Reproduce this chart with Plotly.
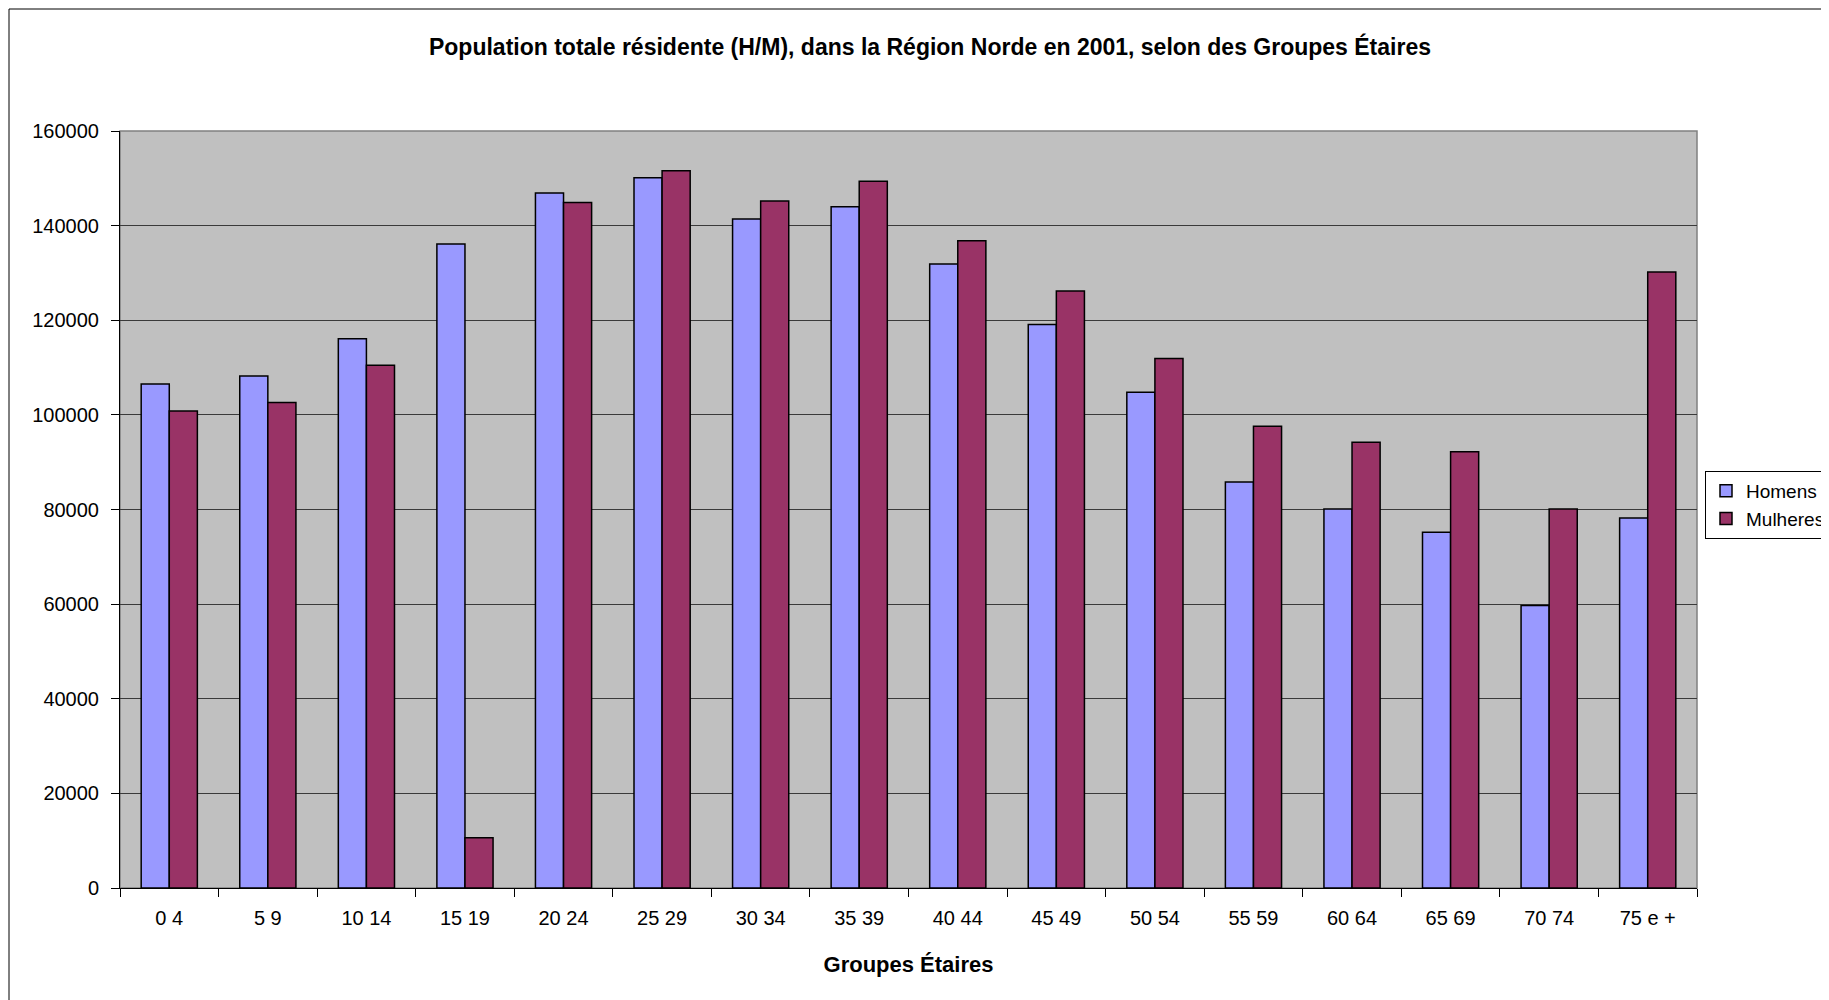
import plotly.graph_objects as go

# Age groups and resident population (Região Norte, 2001)
groupes = ["0 4", "5 9", "10 14", "15 19", "20 24", "25 29", "30 34", "35 39",
           "40 44", "45 49", "50 54", "55 59", "60 64", "65 69", "70 74", "75 e +"]
homens = [106500, 108200, 116100, 136100, 146900, 150100, 141400, 144000,
          131900, 119100, 104800, 85800, 80100, 75200, 59700, 78200]
mulheres = [100800, 102600, 110500, 10600, 144900, 151600, 145200, 149400,
            136800, 126200, 111900, 97600, 94200, 92200, 80100, 130200]

# the page body has an 8px margin, so the figure is laid out 8px up/left
W, H = 1829, 1000
OFF = 8
L, T = 120 - OFF, 131 - OFF
pw, ph = 1577, 757
R, B = W - L - pw, H - T - ph

fig = go.Figure()
fig.add_trace(go.Bar(
    name="Homens", x=groupes, y=homens,
    marker=dict(color="#9999FF", line=dict(color="#000000", width=1.5)),
))
fig.add_trace(go.Bar(
    name="Mulheres", x=groupes, y=mulheres,
    marker=dict(color="#993366", line=dict(color="#000000", width=1.5)),
))

# plot area border (gray top/right) and outer chart frame
fig.add_shape(type="rect", xref="paper", yref="paper", x0=0, x1=1, y0=0, y1=1,
              line=dict(color="#808080", width=1.5), layer="below")
fig.add_shape(type="rect", xref="paper", yref="paper",
              x0=(9 - OFF - L) / pw, x1=(W + 20 - L) / pw,
              y0=-(H + 20 - T - ph) / ph, y1=(T - 9 + OFF) / ph + 1,
              line=dict(color="#000000", width=1))

fig.update_layout(
    width=W, height=H,
    margin=dict(l=L, r=R, t=T, b=B, autoexpand=False),
    paper_bgcolor="white",
    plot_bgcolor="#C0C0C0",
    barmode="group",
    bargap=0.43,
    bargroupgap=0,
    font=dict(family="Liberation Sans, Arial, sans-serif", size=20, color="#000000"),
    title=dict(
        text="<b>Population totale résidente (H/M), dans la Région Norde en 2001, selon des Groupes Étaires</b>",
        x=(930 - OFF) / W, xanchor="center", y=1 - (47 - OFF) / H, yanchor="middle",
        font=dict(size=23),
    ),
    xaxis=dict(
        title=dict(text="<b>Groupes Étaires</b>", font=dict(size=22), standoff=28),
        type="category",
        tickson="boundaries",
        ticks="outside", ticklen=8, tickcolor="#000000",
        ticklabelstandoff=12,
        showline=True, linecolor="#000000", linewidth=1,
        showgrid=False,
        tickfont=dict(size=20),
    ),
    yaxis=dict(
        range=[0, 160000], dtick=20000,
        tickformat="d",
        ticks="outside", ticklen=8, tickcolor="#000000",
        ticklabelstandoff=8,
        showline=True, linecolor="#000000", linewidth=1,
        showgrid=True, gridcolor="#3a3a3a", gridwidth=1.2,
        tickfont=dict(size=20),
        zeroline=False,
    ),
    legend=dict(
        xref="container", yref="container",
        x=(1705 - OFF) / W, xanchor="left",
        y=1 - (471 - OFF) / H, yanchor="top",
        bgcolor="white", bordercolor="#000000", borderwidth=1,
        font=dict(size=19),
        tracegroupgap=9,
    ),
)

fig.write_html("out.html")
